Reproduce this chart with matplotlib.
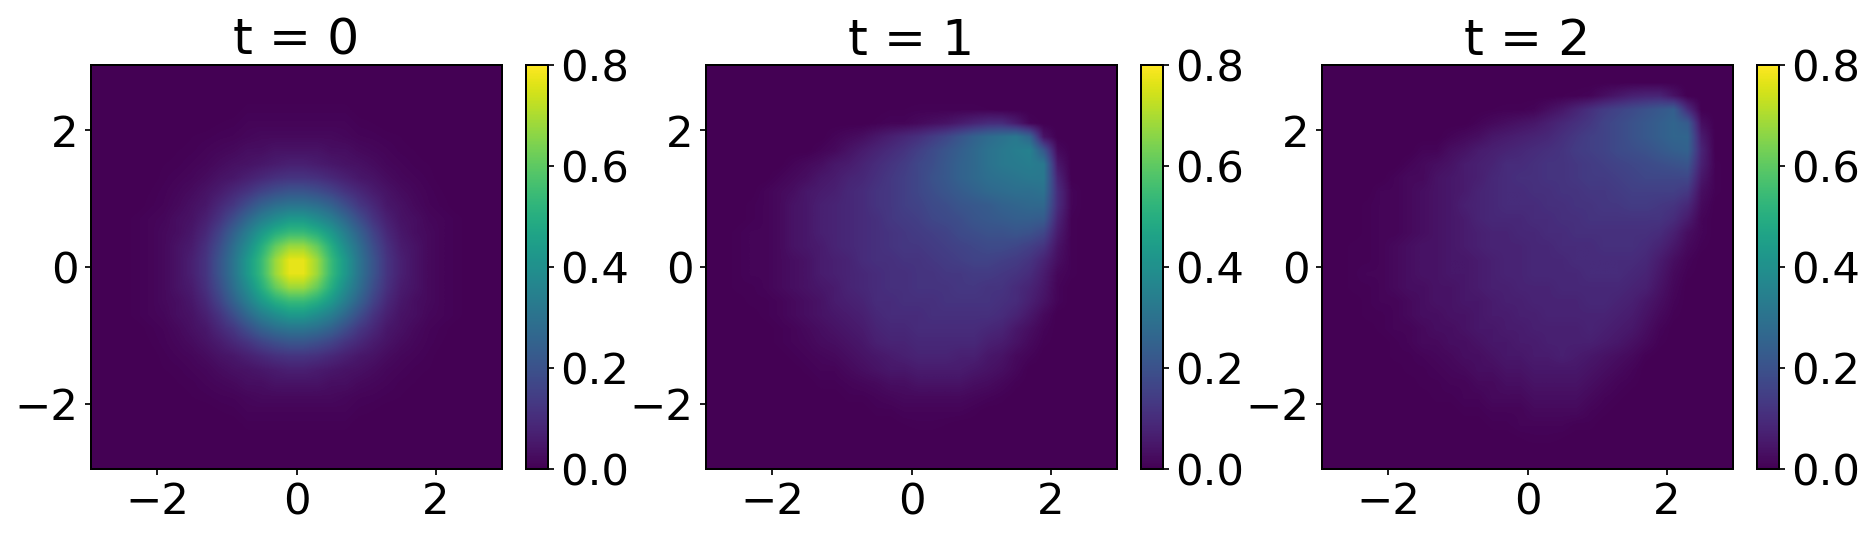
import numpy as np
import matplotlib
matplotlib.use("Agg")
import matplotlib.pyplot as plt

titles = ["t = 0", "t = 1", "t = 2"]
ticks_xy = [-2, 0, 2]
ticks_cb = [0.0, 0.2, 0.4, 0.6, 0.8]

# Density, in hundredths, on a 30 x 30 grid of cells 0.2 wide.
# t = 0 is symmetric: this quadrant runs from the centre outwards (x, y = 0.1 ... 2.9).
quad_t0 = [
 [77,68,54,43,31,21,12, 7, 4, 2, 1,.5, 0, 0, 0],
 [68,61,50,39,29,19,11, 6, 4, 2, 1,.5, 0, 0, 0],
 [54,50,43,34,25,16, 9, 5, 3, 2, 1,.5, 0, 0, 0],
 [43,39,34,27,19,12, 7, 4, 3,1.5,1,.5, 0, 0, 0],
 [31,29,25,19,13, 9, 5,3.5,2, 1,.5, 0, 0, 0, 0],
 [21,19,16,12, 9, 6, 4,2.5,1.5,.8,.3,0, 0, 0, 0],
 [12,11, 9, 7, 5, 4,2.5,1.5,1,.5, 0, 0, 0, 0, 0],
 [ 7, 6, 5, 4,3.5,2.5,1.5,1,.5,.3, 0, 0, 0, 0, 0],
 [ 4, 4, 3, 3, 2,1.5, 1,.5,.3, 0, 0, 0, 0, 0, 0],
 [ 2, 2, 2,1.5,1,.8,.5,.3, 0, 0, 0, 0, 0, 0, 0],
 [ 1, 1, 1, 1,.5,.3, 0, 0, 0, 0, 0, 0, 0, 0, 0],
 [.5,.5,.5,.5, 0, 0, 0, 0, 0, 0, 0, 0, 0, 0, 0],
 [ 0, 0, 0, 0, 0, 0, 0, 0, 0, 0, 0, 0, 0, 0, 0],
 [ 0, 0, 0, 0, 0, 0, 0, 0, 0, 0, 0, 0, 0, 0, 0],
 [ 0, 0, 0, 0, 0, 0, 0, 0, 0, 0, 0, 0, 0, 0, 0],
]

# t = 1 and t = 2: rows run from y = 2.9 down to y = -2.9, columns from x = -2.9 to x = 2.9.
grid_t1 = [
 [0,0,0,0,0,0,0,0,0,0,0,0,0,0,0,0,0,0,0,0,0,0,0,0,0,0,0,0,0,0],
 [0,0,0,0,0,0,0,0,0,0,0,0,0,0,0,0,0,0,0,0,0,0,0,0,0,0,0,0,0,0],
 [0,0,0,0,0,0,0,0,0,0,0,0,0,0,0,0,0,0,0,0,0,0,0,0,0,0,0,0,0,0],
 [0,0,0,0,0,0,0,0,0,0,0,0,0,.3,.3,.5,.5,.5,.5,.5,.3,0,0,0,0,0,0,0,0,0],
 [0,0,0,0,0,0,0,0,0,0,0,0,.5,1,1,2,3,4,6,8,10,10,6,1,0,0,0,0,0,0],
 [0,0,0,0,0,0,0,0,0,1,2,3,5,7,9,11,14,17,21,25,28,30,32,26,4,0,0,0,0,0],
 [0,0,0,0,0,0,0,0,1,2,4,6,8,10,12,15,18,21,24,27,30,32,34,35,22,2,0,0,0,0],
 [0,0,0,0,0,0,1,2,3,5,6,8,10,12,14,17,19,22,25,27,30,32,33,34,32,5,0,0,0,0],
 [0,0,0,0,0,1,2,3,5,6,8,9,11,13,15,17,20,22,25,27,29,30,31,32,32,8,0,0,0,0],
 [0,0,0,0,1,2,3,5,6,7,9,10,12,13,15,17,19,21,23,25,27,28,29,29,30,10,1,0,0,0],
 [0,0,0,.5,1,2,4,5,7,8,9,10,12,13,15,16,18,19,21,22,23,25,26,27,27,10,1,0,0,0],
 [0,0,0,.5,1,2,4,5,7,8,9,10,11,13,14,15,17,18,19,21,22,23,24,24,23,8,.5,0,0,0],
 [0,0,.5,1,1,2,4,5,7,8,9,10,11,12,13,14,15,16,18,19,20,20,21,20,17,6,.5,0,0,0],
 [0,0,.5,1,1,2,4,5,6,8,9,10,11,12,13,13,14,15,16,17,18,18,17,15,12,4,.5,0,0,0],
 [0,0,.5,1,1,2,3,4,6,7,8,10,11,11,12,12,13,14,15,16,16,15,14,12,8,3,.5,0,0,0],
 [0,0,.5,1,1,2,3,4,6,7,8,9,10,11,11,12,12,13,13,14,14,13,12,10,6,1.5,.5,0,0,0],
 [0,0,.5,.5,1,2,3,4,5,6,8,9,10,11,11,12,12,12,13,13,12,12,10,8,5,1,0,0,0,0],
 [0,0,0,.5,.5,1,2,3,4,6,7,8,10,10,11,11,11,12,12,12,12,11,10,7,4,1,0,0,0,0],
 [0,0,0,0,.5,1,2,3,4,5,6,7,9,10,10,10,11,11,11,11,11,10,8,5,2,0,0,0,0,0],
 [0,0,0,0,0,.5,1,2,3,4,5,6,8,9,9,10,10,10,10,10,9,8,5,3,1,0,0,0,0,0],
 [0,0,0,0,0,.5,1,1.5,2.5,3,4,5,7,8,8,9,9,9,9,9,7,6,4,2,.5,0,0,0,0,0],
 [0,0,0,0,0,0,.5,1,1.5,2,3,4,5,6,7,8,8,8,7,7,5,4,2,1,0,0,0,0,0,0],
 [0,0,0,0,0,0,0,.5,1,1,2,3,4,5,5,6,6,6,6,5,4,3,1.5,0,0,0,0,0,0,0],
 [0,0,0,0,0,0,0,0,.5,.5,1,1.5,2,3,3,4,4,4,4,3,2.5,1.5,.5,0,0,0,0,0,0,0],
 [0,0,0,0,0,0,0,0,0,0,.5,.5,1,1.5,2,2,2,2,2,1.5,1,.5,0,0,0,0,0,0,0,0],
 [0,0,0,0,0,0,0,0,0,0,0,0,.5,.5,1,1,1,1,1,.5,0,0,0,0,0,0,0,0,0,0],
 [0,0,0,0,0,0,0,0,0,0,0,0,0,0,.3,.5,.5,.3,0,0,0,0,0,0,0,0,0,0,0,0],
 [0,0,0,0,0,0,0,0,0,0,0,0,0,0,0,0,0,0,0,0,0,0,0,0,0,0,0,0,0,0],
 [0,0,0,0,0,0,0,0,0,0,0,0,0,0,0,0,0,0,0,0,0,0,0,0,0,0,0,0,0,0],
 [0,0,0,0,0,0,0,0,0,0,0,0,0,0,0,0,0,0,0,0,0,0,0,0,0,0,0,0,0,0],
]

grid_t2 = [
 [0,0,0,0,0,0,0,0,0,0,0,0,0,0,0,0,0,0,0,0,0,0,0,0,0,0,0,0,0,0],
 [0,0,0,0,0,0,0,0,0,0,0,0,0,0,0,0,0,0,0,0,0,0,0,0,0,0,0,0,0,0],
 [0,0,0,0,0,0,0,0,0,0,0,0,0,0,0,0,0,.3,.5,1,3,5,7,8,8,4,0,0,0,0],
 [0,0,0,0,0,0,0,0,0,0,0,0,.3,.5,.5,1,3,5,8,11,14,16,18,20,22,24,10,0,0,0],
 [0,0,0,0,0,0,0,0,0,0,0,1,2,3,4,5,7,9,11,13,16,18,20,22,24,26,23,3,0,0],
 [0,0,0,0,0,0,0,0,0,1,2,3,5,6,7,8,9,11,13,15,16,18,20,22,24,26,26,6,0,0],
 [0,0,0,0,0,0,0,1,1,3,4,6,7,8,9,10,11,12,14,15,16,18,19,20,22,24,25,8,0,0],
 [0,0,0,0,0,0,1,2,3,4,6,7,8,10,10,11,12,12,13,14,15,16,17,18,19,20,21,7,.5,0],
 [0,0,0,0,0,1,2,2,4,5,6,7,9,10,11,11,12,12,13,14,14,15,16,17,17,17,17,5,.5,0],
 [0,0,0,0,1,1,2,3,4,5,6,8,9,10,10,11,11,12,12,13,13,14,15,15,15,15,13,3,.5,0],
 [0,0,0,.5,1,1,2,3,4,5,7,8,9,10,10,10,11,11,12,12,13,13,14,14,13,12,9,2,0,0],
 [0,0,0,.5,1,1,2,3,4,5,6,8,9,9,9,10,10,11,11,12,12,12,12,12,12,10,6,1,0,0],
 [0,0,0,.5,1,1,2,3,4,5,6,7,8,8,9,9,10,10,11,11,11,11,11,11,10,7,3,1,0,0],
 [0,0,.5,.5,1,2,3,4,4,5,6,7,8,8,8,9,9,10,10,10,11,11,11,10,8,5,2,.5,0,0],
 [0,0,.5,.5,1,2,3,4,4,5,5,6,7,8,8,9,9,9,10,10,10,10,10,9,6,3,1,0,0,0],
 [0,0,.5,1,1,2,3,4,4,5,5,6,7,8,8,9,9,9,9,10,10,10,9,8,5,2,.5,0,0,0],
 [0,0,.5,.5,1,2,3,3,4,4,5,6,7,7,8,8,8,9,9,9,9,9,8,7,4,1.5,0,0,0,0],
 [0,0,0,.5,1,1,2,3,4,4,5,5,6,7,7,8,8,8,8,9,9,8,7,5,3,1,0,0,0,0],
 [0,0,0,.5,.5,1,2,3,3,4,4,5,6,6,7,7,8,8,8,8,8,7,6,4,2,.5,0,0,0,0],
 [0,0,0,0,.5,1,1,2,3,3,4,5,5,6,6,7,7,7,7,8,7,6,5,3,1,0,0,0,0,0],
 [0,0,0,0,0,.5,1,2,2,3,3,4,5,5,6,6,7,7,7,7,6,5,3.5,2,.5,0,0,0,0,0],
 [0,0,0,0,0,.5,.5,1,1.5,2,3,3,4,5,5,6,6,7,6,5,4,3,2,.5,0,0,0,0,0,0],
 [0,0,0,0,0,0,.5,.5,1,1.5,2,3,3,4,4,5,5,5,5,4,3,2,1,0,0,0,0,0,0,0],
 [0,0,0,0,0,0,0,.5,.5,1,1,2,2,3,3,4,4,4,4,3,2,1,.5,0,0,0,0,0,0,0],
 [0,0,0,0,0,0,0,0,.5,.5,1,1,2,2,2,3,3,3,3,2,1,.5,0,0,0,0,0,0,0,0],
 [0,0,0,0,0,0,0,0,0,0,.5,.5,1,1,1,2,2,2,2,1,.5,0,0,0,0,0,0,0,0,0],
 [0,0,0,0,0,0,0,0,0,0,0,0,.5,.5,1,1,1,1,.5,.5,0,0,0,0,0,0,0,0,0,0],
 [0,0,0,0,0,0,0,0,0,0,0,0,0,0,.3,.5,.5,.3,0,0,0,0,0,0,0,0,0,0,0,0],
 [0,0,0,0,0,0,0,0,0,0,0,0,0,0,0,0,0,0,0,0,0,0,0,0,0,0,0,0,0,0],
 [0,0,0,0,0,0,0,0,0,0,0,0,0,0,0,0,0,0,0,0,0,0,0,0,0,0,0,0,0,0],
]

q = np.array(quad_t0, dtype=float)
top = np.hstack([q[::-1, ::-1], q[::-1, :]])
field_t0 = np.vstack([top, top[::-1, :]]) / 100
field_t1 = np.array(grid_t1, dtype=float) / 100
field_t2 = np.array(grid_t2, dtype=float) / 100
fields = [field_t0, field_t1, field_t2]

W, H = 1873, 541
dpi = 125
plt.rcParams["axes.linewidth"] = 1.15
plt.rcParams["xtick.major.width"] = 1.0
plt.rcParams["ytick.major.width"] = 1.0
fig = plt.figure(figsize=(W / dpi, H / dpi), dpi=dpi)
ax_lefts = [91, 706, 1322]
ax_w, ax_top, ax_bot = 411, 65, 469
cb_off, cb_w = 435, 22

for left, field, title in zip(ax_lefts, fields, titles):
    ax = fig.add_axes([left / W, 1 - ax_bot / H, ax_w / W, (ax_bot - ax_top) / H])
    im = ax.imshow(field, cmap="viridis", vmin=0, vmax=0.8, origin="upper",
                   extent=[-3, 3, -3, 3], aspect="auto", interpolation="bilinear")
    ax.set_xlim(-2.95, 2.95)
    ax.set_ylim(-2.95, 2.95)
    ax.set_xticks(ticks_xy)
    ax.set_yticks(ticks_xy)
    ax.tick_params(labelsize=25)
    ax.set_title(title, fontsize=29, pad=6)
    cax = fig.add_axes([(left + cb_off) / W, 1 - ax_bot / H, cb_w / W, (ax_bot - ax_top) / H])
    cb = fig.colorbar(im, cax=cax)
    cb.set_ticks(ticks_cb)
    cb.ax.tick_params(labelsize=25)

fig.savefig("out.png", dpi=dpi)
